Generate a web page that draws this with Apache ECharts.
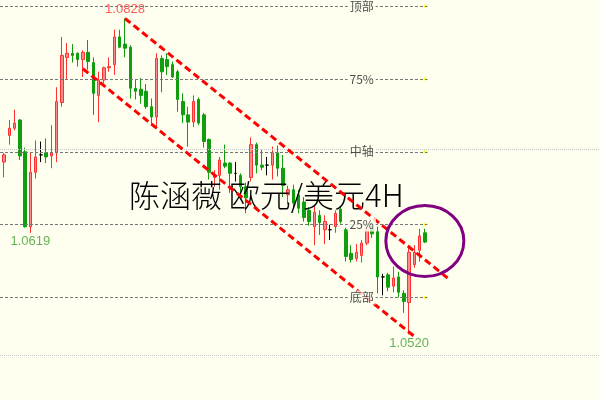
<!DOCTYPE html>
<html><head><meta charset="utf-8">
<script src="https://cdn.jsdelivr.net/npm/echarts@6/dist/echarts.min.js"></script>
<style>html,body{margin:0;padding:0;background:#fffff0}#c{width:600px;height:400px}</style>
</head><body><div id="c"></div>
<script>
// ---- data (EUR/USD 4H), candle index starts at -1 ----
const firstIndex = -1;
const opens  = [1.0675,1.0688,1.0714,1.0721,1.0729,1.0698,1.0625,1.0678,1.0695,1.0697,1.0694,1.0697,1.0746,1.0790,1.0794,1.0794,1.0788,1.0795,1.0785,1.0753,1.0768,1.0780,1.0783,1.0810,1.0803,1.0800,1.0760,1.0759,1.0757,1.0742,1.0732,1.0789,1.0788,1.0783,1.0776,1.0747,1.0734,1.0727,1.0749,1.0734,1.0710,1.0673,1.0675,1.0687,1.0687,1.0677,1.0675,1.0664,1.0673,1.0705,1.0685,1.0685,1.0685,1.0697,1.0682,1.0656,1.0661,1.0656,1.0649,1.0641,1.0625,1.0636,1.0622,1.0622,1.0625,1.0642,1.0622,1.0599,1.0594,1.0597,1.0609,1.0624,1.0620,1.0576,1.0578,1.0567,1.0576,1.0560,1.0551,1.0588,1.0602,1.0619];
const closes = [1.0688,1.0695,1.0721,1.0726,1.0694,1.0625,1.0678,1.0693,1.0695,1.0693,1.0697,1.0747,1.0792,1.0794,1.0792,1.0788,1.0795,1.0786,1.0755,1.0768,1.0780,1.0781,1.0810,1.0800,1.0799,1.0760,1.0757,1.0753,1.0742,1.0732,1.0789,1.0776,1.0781,1.0771,1.0749,1.0734,1.0727,1.0747,1.0726,1.0708,1.0678,1.0675,1.0690,1.0684,1.0677,1.0677,1.0664,1.0653,1.0705,1.0685,1.0683,1.0685,1.0697,1.0682,1.0665,1.0661,1.0648,1.0643,1.0634,1.0630,1.0639,1.0629,1.0630,1.0622,1.0638,1.0630,1.0596,1.0593,1.0600,1.0609,1.0621,1.0618,1.0576,1.0576,1.0566,1.0575,1.0561,1.0552,1.0600,1.0600,1.0616,1.0610];
const lows   = [1.0672,1.0673,1.0705,1.0719,1.0690,1.0624,1.0619,1.0672,1.0688,1.0687,1.0682,1.0688,1.0742,1.0768,1.0785,1.0781,1.0771,1.0778,1.0734,1.0727,1.0765,1.0776,1.0773,1.0799,1.0790,1.0750,1.0749,1.0745,1.0740,1.0724,1.0722,1.0756,1.0773,1.0770,1.0737,1.0726,1.0703,1.0722,1.0724,1.0702,1.0671,1.0664,1.0661,1.0682,1.0658,1.0669,1.0654,1.0638,1.0669,1.0677,1.0680,1.0675,1.0671,1.0674,1.0654,1.0647,1.0643,1.0638,1.0630,1.0626,1.0607,1.0617,1.0608,1.0612,1.0619,1.0628,1.0591,1.0590,1.0591,1.0590,1.0607,1.0614,1.0560,1.0558,1.0562,1.0561,1.0556,1.0541,1.0520,1.0585,1.0591,1.0609];
const highs  = [1.0692,1.0697,1.0729,1.0739,1.0730,1.0702,1.0697,1.0709,1.0708,1.0711,1.0724,1.0761,1.0810,1.0804,1.0803,1.0795,1.0797,1.0807,1.0790,1.0776,1.0781,1.0790,1.0817,1.0817,1.0828,1.0802,1.0769,1.0770,1.0764,1.0750,1.0794,1.0792,1.0794,1.0786,1.0778,1.0755,1.0742,1.0753,1.0751,1.0736,1.0711,1.0680,1.0693,1.0705,1.0688,1.0688,1.0677,1.0668,1.0712,1.0707,1.0700,1.0693,1.0703,1.0704,1.0695,1.0665,1.0666,1.0661,1.0654,1.0644,1.0646,1.0641,1.0636,1.0627,1.0641,1.0645,1.0624,1.0607,1.0608,1.0612,1.0624,1.0627,1.0625,1.0579,1.0580,1.0586,1.0581,1.0563,1.0607,1.0607,1.0623,1.0623];

const levelNames  = ['顶部','75%','中轴','25%','底部'];
const levelValues = [1.0840, 1.0769, 1.0698, 1.0627, 1.0556];
const gridLineValues = [1.0671, 1.0497];

const upperChannel = [[23, 1.0828], [84.8, 1.0573]];
const lowerChannel = [[15, 1.0779], [78, 1.0518]];

const priceMarks = [
  {x: 23, price: 1.0828, text: '1.0828', pos: 'top',    color: '#ff3333'},
  {x: 5,  price: 1.0619, text: '1.0619', pos: 'bottom', color: '#3f9f2f'},
  {x: 77, price: 1.0520, text: '1.0520', pos: 'bottom', color: '#3f9f2f'}
];
const titleText = '陈涵薇 欧元/美元4H';
const circleCenter = [80, 1.0611];
const levelLabelX = 68, levelEndX = 80.5, levelDotX = 80;

// ---- chart ----
const candles = opens.map((o, i) => [firstIndex + i, o, closes[i], lows[i], highs[i]]);
const BAND = 5.2605, LEFT0 = 1.37;
const xMin = (0 - LEFT0) / BAND - 0.5, xMax = (600 - LEFT0) / BAND - 0.5;

const chart = echarts.init(document.getElementById('c'));
const transparent = 'rgba(0,0,0,0)';
chart.setOption({
  backgroundColor: '#fffff0',
  animation: false,
  grid: {left: 0, top: 0, width: 600, height: 400},
  xAxis: {type: 'value', min: xMin, max: xMax, show: false},
  yAxis: {type: 'value', min: 1.0456, max: 1.0846, show: false},
  title: {
    text: titleText, left: 129, top: 180, padding: 0,
    textStyle: {fontSize: 31, fontWeight: 300, color: '#000', fontFamily: 'Noto Sans CJK SC'}
  },
  series: [
    {
      type: 'candlestick', data: candles, barWidth: 3, z: 3,
      itemStyle: {color: '#ff8c8c', color0: '#0e9e0e', borderColor: '#ff3030', borderColor0: '#0e9e0e', borderColorDoji: '#000', borderWidth: 1},
      markLine: {
        silent: true, symbol: 'none', label: {show: false}, animation: false,
        data: levelValues.map(v => [
          {coord: [xMin, v], lineStyle: {color: '#777', type: [3, 2], width: 1.2}},
          {coord: [levelEndX, v]}
        ]).concat(gridLineValues.map(v => ({yAxis: v, lineStyle: {color: '#c8c8c8', type: [1, 1], width: 1}})))
      }
    },
    {
      type: 'scatter', data: levelValues.map(v => [levelDotX, v]), symbol: 'rect', symbolSize: 3,
      itemStyle: {color: '#ffff00'}, z: 4, silent: true
    },
    {
      type: 'line', data: upperChannel, symbol: 'none', z: 6, silent: true,
      lineStyle: {color: '#ff0000', width: 3, type: [7, 4]}
    },
    {
      type: 'line', data: lowerChannel, symbol: 'none', z: 6, silent: true,
      lineStyle: {color: '#ff0000', width: 3, type: [7, 4]}
    },
    {
      type: 'scatter', z: 7, silent: true, symbolSize: 1, itemStyle: {color: transparent},
      data: levelValues.map((v, i) => ({value: [levelLabelX, v], name: levelNames[i]})),
      label: {show: true, position: 'inside', formatter: p => p.name, fontSize: 12, color: '#222',
        fontFamily: 'Noto Sans CJK SC', backgroundColor: '#fffff0', padding: [1, 2]}
    },
    {
      type: 'scatter', z: 7, silent: true, symbolSize: 1, itemStyle: {color: transparent},
      data: priceMarks.map(m => ({
        value: [m.x, m.price], name: m.text,
        label: {position: m.pos, color: m.color}
      })),
      label: {show: true, distance: 2, formatter: p => p.name, fontSize: 13, fontFamily: 'Liberation Sans'}
    }
  ]
});
const c = chart.convertToPixel({gridIndex: 0}, circleCenter);
chart.setOption({
  graphic: [{type: 'ellipse', z: 100, shape: {cx: c[0], cy: c[1], rx: 39, ry: 35.5},
    style: {fill: 'none', stroke: '#800080', lineWidth: 3}}]
});
</script></body></html>
